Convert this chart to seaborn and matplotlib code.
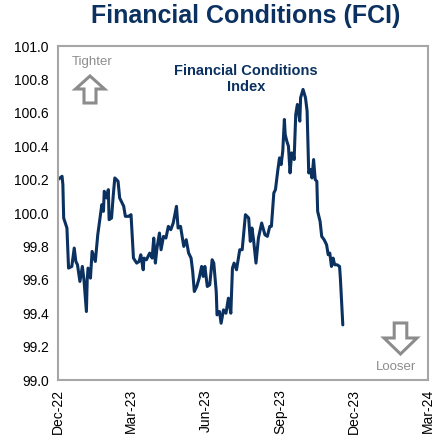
import numpy as np
import pandas as pd
import matplotlib
matplotlib.use('Agg')
import matplotlib.pyplot as plt
import matplotlib.dates as mdates
from matplotlib.patches import Polygon
import seaborn as sns

# FCI values (days counted from 1 Dec 2022)
day_offsets = [0, 5, 6, 7, 11, 13, 17, 20, 22, 24, 27, 30, 32, 35, 36, 37, 40, 42, 46, 49,
               54, 56, 57, 60, 62, 63, 66, 68, 70, 74, 76, 81, 83, 87, 90, 93, 97, 100, 102, 105,
               106, 109, 113, 116, 118, 120, 122, 125, 127, 130, 133, 136, 139, 142, 146, 148, 151, 155, 158, 161,
               164, 166, 168, 171, 174, 177, 179, 181, 184, 187, 190, 192, 195, 196, 199, 201, 204, 207, 210, 213,
               215, 217, 220, 224, 227, 231, 235, 237, 239, 241, 244, 247, 251, 255, 258, 261, 263, 266, 268, 271,
               273, 275, 277, 279, 280, 282, 284, 286, 288, 290, 291, 293, 295, 298, 299, 302, 305, 307, 309, 311,
               313, 315, 317, 319, 320, 323, 325, 328, 331, 333, 335, 337, 339, 341, 344, 347, 348, 351]
fci_values = [100.20, 100.22, 100.17, 99.97, 99.91, 99.67, 99.68, 99.79, 99.71, 99.69,
              99.59, 99.68, 99.60, 99.41, 99.60, 99.67, 99.61, 99.77, 99.71, 99.87,
              100.05, 100.01, 100.13, 100.09, 100.14, 99.96, 99.97, 100.10, 100.21, 100.19,
              100.09, 100.04, 99.98, 99.98, 99.99, 99.73, 99.70, 99.71, 99.75, 99.66,
              99.73, 99.72, 99.76, 99.73, 99.85, 99.70, 99.79, 99.88, 99.78, 99.86,
              99.85, 99.92, 99.90, 99.94, 100.04, 99.91, 99.92, 99.80, 99.84, 99.76,
              99.73, 99.65, 99.53, 99.56, 99.61, 99.68, 99.62, 99.68, 99.56, 99.57,
              99.72, 99.70, 99.53, 99.39, 99.41, 99.34, 99.42, 99.40, 99.49, 99.40,
              99.67, 99.70, 99.66, 99.78, 99.78, 99.99, 99.97, 99.83, 99.91, 99.84,
              99.70, 99.85, 99.94, 99.87, 99.86, 99.92, 99.92, 100.12, 100.14, 100.26,
              100.33, 100.29, 100.37, 100.56, 100.47, 100.43, 100.40, 100.24, 100.36, 100.35,
              100.32, 100.59, 100.65, 100.55, 100.69, 100.74, 100.69, 100.61, 100.24, 100.26,
              100.21, 100.32, 100.20, 100.19, 100.01, 99.95, 99.86, 99.84, 99.81, 99.75,
              99.76, 99.68, 99.73, 99.69, 99.69, 99.68, 99.61, 99.33]

tick_dates = ['2022-12-01', '2023-03-01', '2023-06-01', '2023-09-01', '2023-12-01', '2024-03-01']
y_ticks = [99.0, 99.2, 99.4, 99.6, 99.8, 100.0, 100.2, 100.4, 100.6, 100.8, 101.0]

NAVY = '#0b3160'
GRAY = '#8c8c8c'


def block_arrow(ax, cx, tip_y, tail_y, base_y, head_hw, shaft_hw):
    # outlined block arrow in axes fraction
    pts = [(cx, tip_y), (cx + head_hw, base_y), (cx + shaft_hw, base_y),
           (cx + shaft_hw, tail_y), (cx - shaft_hw, tail_y), (cx - shaft_hw, base_y),
           (cx - head_hw, base_y)]
    ax.add_patch(Polygon(pts, closed=True, transform=ax.transAxes, facecolor='white',
                         edgecolor=GRAY, linewidth=2.2, joinstyle='miter', clip_on=False))


def main():
    sns.set_style('white')
    plt.rcParams['font.family'] = ['Liberation Sans', 'DejaVu Sans']

    df = pd.DataFrame({
        'date': pd.Timestamp('2022-12-01') + pd.to_timedelta(day_offsets, unit='D'),
        'fci': fci_values,
    })

    fig = plt.figure(figsize=(4.41, 4.40), dpi=100)
    ax = fig.add_axes([58 / 441, 1 - 380 / 440, 370 / 441, 334 / 440])

    sns.lineplot(data=df, x='date', y='fci', ax=ax, color=NAVY, linewidth=2.2)

    ticks = pd.to_datetime(tick_dates)
    ax.set_xlim(ticks[0], ticks[-1])
    ax.set_xticks(ticks)
    ax.xaxis.set_major_formatter(mdates.DateFormatter('%b-%y'))
    ax.set_ylim(99.0, 101.0)
    ax.set_yticks(y_ticks)
    ax.set_yticklabels([f'{v:.1f}' for v in y_ticks])
    ax.set_xlabel('')
    ax.set_ylabel('')

    for s in ax.spines.values():
        s.set_color('#a6a6a6')
        s.set_linewidth(1.5)
    ax.tick_params(axis='both', direction='out', length=4, width=1.5, color='#a6a6a6',
                   labelsize=10, labelcolor='black', pad=2.5)
    ax.tick_params(axis='x', labelrotation=90)

    # Title
    fig.text(246 / 441, 1 - 16 / 440, 'Financial Conditions (FCI)', ha='center', va='center',
             fontsize=18, fontweight='bold', color=NAVY,
             family=['Liberation Sans Narrow', 'Liberation Sans'])

    ax.text((246 - 58) / 370, (380 - 79) / 334, 'Financial Conditions\nIndex', transform=ax.transAxes,
            ha='center', va='center', fontsize=10.5, fontweight='bold', color=NAVY, linespacing=1.2)

    ax.text((92.5 - 58) / 370, (380 - 62) / 334, 'Tighter', transform=ax.transAxes,
            ha='center', va='center', fontsize=9.5, color=GRAY)
    ax.text((396 - 58) / 370, (380 - 367) / 334, 'Looser', transform=ax.transAxes,
            ha='center', va='center', fontsize=9.5, color=GRAY)

    block_arrow(ax, (90 - 58) / 370, (380 - 76) / 334, (380 - 103) / 334, (380 - 89) / 334,
                14.5 / 370, 6.0 / 370)
    block_arrow(ax, (400.5 - 58) / 370, (380 - 354) / 334, (380 - 323) / 334, (380 - 338) / 334,
                16.5 / 370, 6.3 / 370)

    fig.savefig('out.png', dpi=100)


if __name__ == "__main__":
    main()
